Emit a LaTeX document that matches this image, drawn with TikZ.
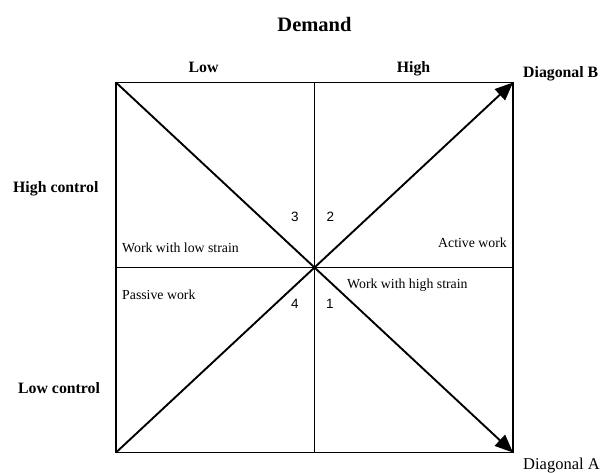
\documentclass[tikz,border=0pt]{standalone}
\usepackage{fontspec}
\setmainfont{Liberation Serif}
\newfontfamily\digitfont{Liberation Sans}
\usetikzlibrary{arrows.meta}
\begin{document}
\begin{tikzpicture}[x=1pt,y=-1pt,
  frame/.style={line width=1.9pt},
  diag/.style={line width=1.9pt,-{Triangle[length=18pt,width=15pt]}},
  headlbl/.style={inner sep=0pt,font=\fontsize{15.8}{18}\selectfont\bfseries},
  celltxt/.style={inner sep=0pt,font=\fontsize{13.8}{16}\selectfont},
  numlbl/.style={inner sep=0pt,anchor=base,font=\fontsize{13.5}{15}\selectfont\digitfont}]
\useasboundingbox (0,0) rectangle (608,472);
\coordinate (TL) at (116,82.5);
\coordinate (TR) at (513,82.5);
\coordinate (BL) at (116,452.5);
\coordinate (BR) at (513,452.5);
\coordinate (TM) at (314.5,82.5);
\coordinate (BM) at (314.5,452.5);
\coordinate (LM) at (116,267.5);
\coordinate (RM) at (513,267.5);
\draw[frame] (TL) rectangle (BR);
\draw[frame] (TM) -- (BM);
\draw[frame] (LM) -- (RM);
\draw[diag] (TL) -- (BR);
\draw[diag] (BL) -- (TR);
\node[inner sep=0pt,anchor=base,font=\fontsize{20.5}{24}\selectfont\bfseries] (demand) at (314.5,31) {Demand};
\node[headlbl,anchor=base] (low) at (203.5,72) {Low};
\node[headlbl,anchor=base] (high) at (413.5,72) {High};
\node[headlbl,anchor=base west] (diagb) at (523,77) {Diagonal B};
\node[inner sep=0pt,anchor=base west,font=\fontsize{16.5}{19}\selectfont] (diaga) at (523,469) {Diagonal A};
\node[headlbl,anchor=base west] (hc) at (13,192) {High control};
\node[headlbl,anchor=base west] (lc) at (18,393) {Low control};
\node[celltxt,anchor=base west] (lowstrain) at (122,252) {Work with low strain};
\node[celltxt,anchor=base east] (active) at (507,247) {Active work};
\node[celltxt,anchor=base west] (passive) at (122,299) {Passive work};
\node[celltxt,anchor=base west] (highstrain) at (347,288) {Work with high strain};
\node[numlbl] (n3) at (295,221) {3};
\node[numlbl] (n2) at (330.5,221) {2};
\node[numlbl] (n4) at (295,308) {4};
\node[numlbl] (n1) at (330,308) {1};
\end{tikzpicture}
\end{document}
